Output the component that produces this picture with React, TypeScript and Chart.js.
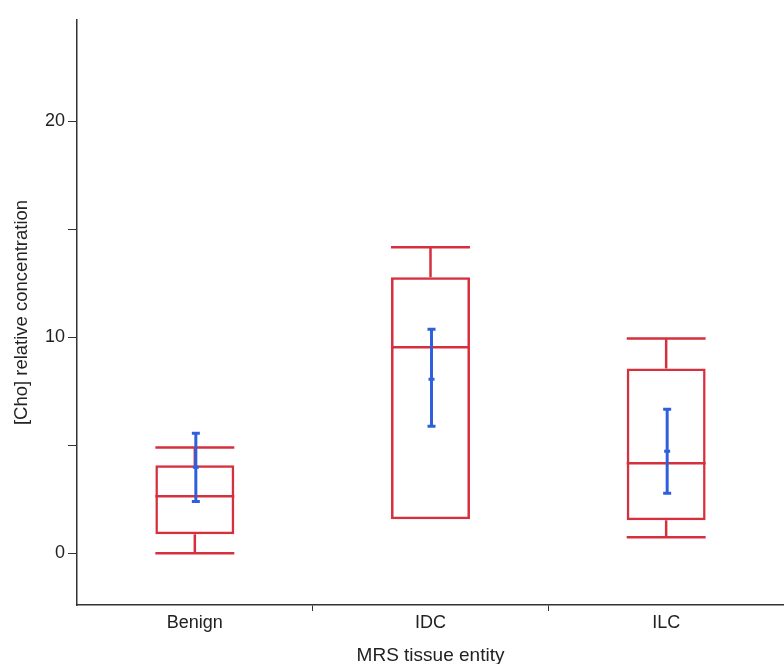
import React, { useEffect, useRef } from "react";
import { Chart, registerables } from "chart.js";

Chart.register(...registerables);

const categories = ["Benign", "IDC", "ILC"];
const whiskerLow = [0.0, 1.57, 0.74];
const q1 = [0.88, 1.57, 1.53];
const median = [2.64, 9.54, 4.17];
const q3 = [4.07, 12.78, 8.56];
const whiskerHigh = [4.9, 14.17, 9.95];
const meanValues = [3.98, 8.06, 4.72];
const ciLow = [2.4, 5.88, 2.78];
const ciHigh = [5.56, 10.37, 6.67];
const yTickValues = [0, 5, 10, 15, 20];
const yLabeledTicks = [0, 10, 20];

const RED = "#d6303e";
const BLUE = "#2f5fdc";
const AXIS = "#333333";
const FONT = "'Liberation Sans', Arial, sans-serif";

const boxPlugin = {
  id: "boxExtras",
  afterDatasetsDraw(chart: any) {
    const ctx = chart.ctx;
    const y = chart.scales.y;
    const meta = chart.getDatasetMeta(0);
    ctx.save();
    meta.data.forEach((bar: any, i: number) => {
      const x = bar.x;
      const half = bar.width / 2;
      ctx.strokeStyle = RED;
      ctx.lineWidth = 2.5;
      ctx.lineCap = "butt";
      ctx.beginPath();
      ctx.moveTo(x - half, y.getPixelForValue(median[i]));
      ctx.lineTo(x + half, y.getPixelForValue(median[i]));
      ctx.stroke();
      if (whiskerHigh[i] > q3[i]) {
        ctx.beginPath();
        ctx.moveTo(x, y.getPixelForValue(q3[i]));
        ctx.lineTo(x, y.getPixelForValue(whiskerHigh[i]));
        ctx.moveTo(x - half, y.getPixelForValue(whiskerHigh[i]));
        ctx.lineTo(x + half, y.getPixelForValue(whiskerHigh[i]));
        ctx.stroke();
      }
      if (whiskerLow[i] < q1[i]) {
        ctx.beginPath();
        ctx.moveTo(x, y.getPixelForValue(q1[i]));
        ctx.lineTo(x, y.getPixelForValue(whiskerLow[i]));
        ctx.moveTo(x - half, y.getPixelForValue(whiskerLow[i]));
        ctx.lineTo(x + half, y.getPixelForValue(whiskerLow[i]));
        ctx.stroke();
      }
      const bx = x + 1;
      ctx.strokeStyle = BLUE;
      ctx.lineWidth = 3;
      ctx.beginPath();
      ctx.moveTo(bx, y.getPixelForValue(ciLow[i]));
      ctx.lineTo(bx, y.getPixelForValue(ciHigh[i]));
      ctx.stroke();
      ctx.beginPath();
      ctx.moveTo(bx - 4, y.getPixelForValue(ciLow[i]));
      ctx.lineTo(bx + 4, y.getPixelForValue(ciLow[i]));
      ctx.moveTo(bx - 4, y.getPixelForValue(ciHigh[i]));
      ctx.lineTo(bx + 4, y.getPixelForValue(ciHigh[i]));
      ctx.moveTo(bx - 3, y.getPixelForValue(meanValues[i]));
      ctx.lineTo(bx + 3, y.getPixelForValue(meanValues[i]));
      ctx.stroke();
    });
    ctx.restore();
  },
};

export default function App() {
  const ref = useRef<HTMLCanvasElement>(null);
  useEffect(() => {
    if (!ref.current) return;
    const chart = new Chart(ref.current, {
      type: "bar",
      data: {
        labels: categories,
        datasets: [
          {
            data: categories.map((_, i) => [q1[i], q3[i]]) as any,
            backgroundColor: "rgba(0,0,0,0)",
            borderColor: RED,
            borderWidth: 2.5,
            borderSkipped: false,
            barPercentage: 0.335,
            categoryPercentage: 1,
          },
        ],
      },
      options: {
        animation: false,
        responsive: true,
        maintainAspectRatio: false,
        layout: { padding: { top: 20, right: 0, left: 0, bottom: 0 } },
        plugins: { legend: { display: false }, tooltip: { enabled: false } },
        scales: {
          x: {
            offset: true,
            grid: {
              display: true,
              offset: true,
              drawOnChartArea: false,
              drawTicks: true,
              tickLength: 6,
              color: (c: any) =>
                c.index === 0 || c.index === categories.length ? "rgba(0,0,0,0)" : AXIS,
            },
            border: { display: true, color: AXIS, width: 1.5 },
            ticks: { color: "#222", font: { family: FONT, size: 18 }, padding: 1 },
            title: {
              display: true,
              text: "MRS tissue entity",
              color: "#222",
              font: { family: FONT, size: 19, lineHeight: 1 },
              padding: { top: 0, bottom: -1 },
            },
            afterFit: (scale: any) => {
              scale.height = 59;
            },
          },
          y: {
            min: -2.4,
            max: 24.7,
            afterBuildTicks: (scale: any) => {
              scale.ticks = yTickValues.map((v) => ({ value: v }));
            },
            grid: {
              display: true,
              drawOnChartArea: false,
              drawTicks: true,
              tickLength: 9,
              color: AXIS,
            },
            border: { display: true, color: AXIS, width: 1.5 },
            ticks: {
              color: "#222",
              font: { family: FONT, size: 18 },
              padding: 3,
              callback: (v: any) => (yLabeledTicks.includes(Number(v)) ? String(v) : ""),
            },
            title: {
              display: true,
              text: "[Cho] relative concentration",
              color: "#222",
              font: { family: FONT, size: 18.5 },
              padding: { top: 11, bottom: 0 },
            },
            afterFit: (scale: any) => {
              scale.width = 77;
            },
          },
        },
      },
      plugins: [boxPlugin],
    });
    return () => chart.destroy();
  }, []);
  return (
    <div style={{ position: "fixed", left: 0, top: 0, width: 784, height: 664, background: "#fff" }}>
      <canvas ref={ref} />
    </div>
  );
}
